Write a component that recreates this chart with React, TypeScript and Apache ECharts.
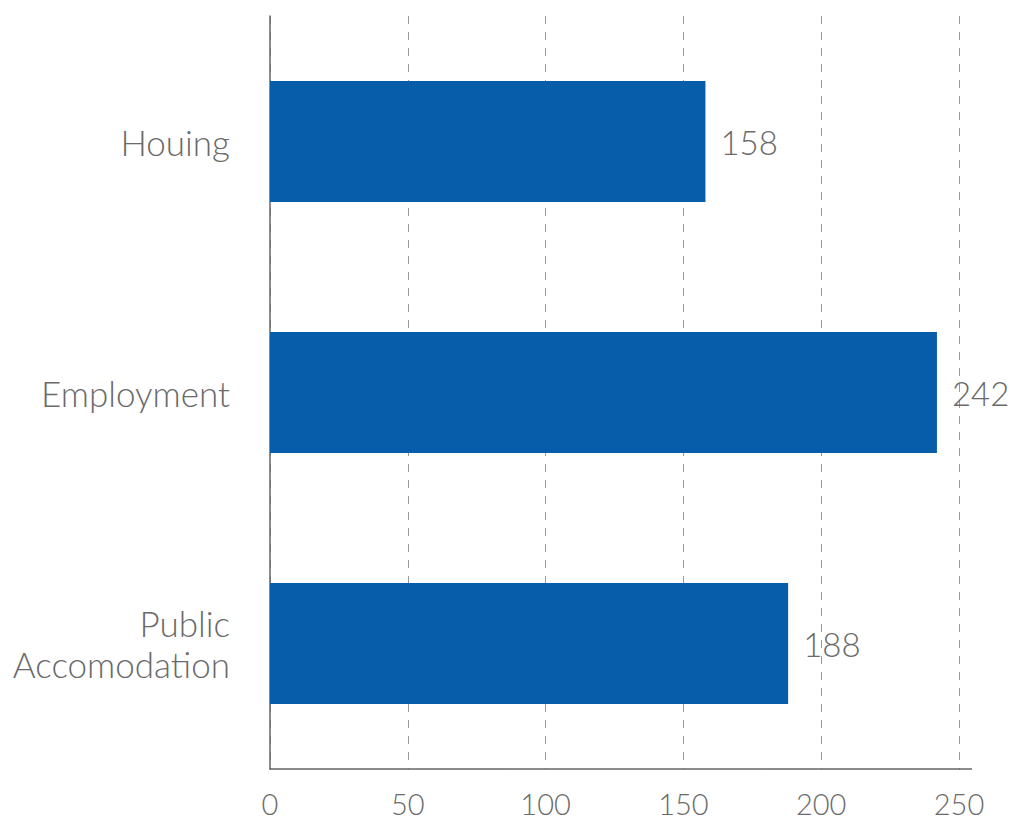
import React, { useEffect, useRef } from "react";
import * as echarts from "echarts";

const categories = ["Houing", "Employment", "Public\nAccomodation"];
const values = [158, 242, 188];
const xTicks = [0, 50, 100, 150, 200, 250];

export default function App() {
  const ref = useRef<HTMLDivElement>(null);
  useEffect(() => {
    if (!ref.current) return;
    const chart = echarts.init(ref.current, undefined, { renderer: "svg" });
    chart.setOption({
      animation: false,
      backgroundColor: "#ffffff",
      grid: { left: 270, right: 52, top: 16, bottom: 65, containLabel: false },
      xAxis: {
        type: "value",
        min: xTicks[0],
        max: xTicks[xTicks.length - 1],
        interval: 50,
        axisLine: { show: true, lineStyle: { color: "#666", width: 1.5 } },
        axisTick: { show: false },
        axisLabel: {
          color: "#6a6a6a",
          fontFamily: "Lato",
          fontWeight: 300,
          fontSize: 29,
          margin: 20,
        },
        splitLine: {
          show: true,
          lineStyle: { color: "#9a9a9a", type: [8, 8], width: 1 },
        },
      },
      yAxis: {
        type: "category",
        data: categories,
        inverse: true,
        axisLine: { show: true, lineStyle: { color: "#666", width: 1.5 } },
        axisTick: { show: false },
        axisLabel: {
          color: "#6a6a6a",
          fontFamily: "Lato",
          fontWeight: 300,
          fontSize: 35,
          margin: 40,
          lineHeight: 41,
          align: "right",
        },
        splitLine: { show: false },
      },
      series: [
        {
          type: "bar",
          data: values,
          barWidth: 121,
          itemStyle: { color: "#085DAA" },
          label: {
            show: true,
            position: "right",
            distance: 15,
            color: "#6a6a6a",
            fontFamily: "Lato",
            fontWeight: 300,
            fontSize: 33,
          },
        },
      ],
    });
    const p0 = chart.convertToPixel({ xAxisIndex: 0, yAxisIndex: 0 }, [xTicks[xTicks.length - 1], 2]) as number[];
    const axisY = 834 - 65;
    chart.setOption({
      graphic: [
        {
          type: "line",
          shape: { x1: p0[0], y1: axisY, x2: p0[0] + 13, y2: axisY },
          style: { stroke: "#666", lineWidth: 1.5 },
          silent: true,
        },
      ],
    });
    return () => chart.dispose();
  }, []);
  return (
    <div
      ref={ref}
      style={{ position: "fixed", left: 0, top: 0, width: 1011, height: 834 }}
    />
  );
}
